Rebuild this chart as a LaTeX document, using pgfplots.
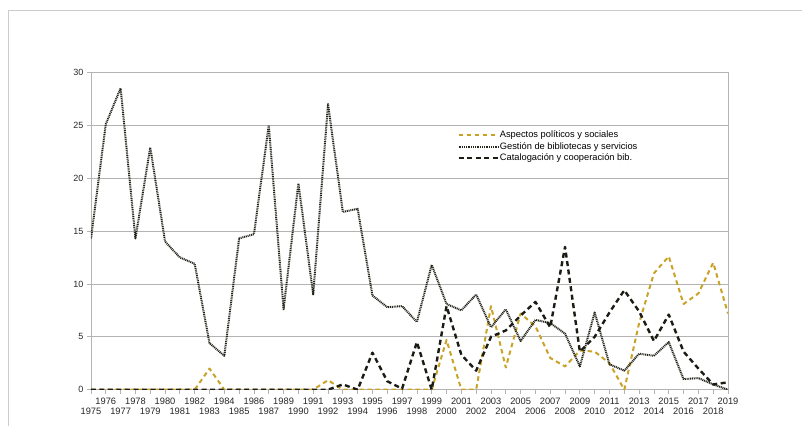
\documentclass[border=0pt]{standalone}
\usepackage{fontspec}
\setmainfont{Liberation Sans}
\usepackage{pgfplots}
\usepackage{pgfplotstable}
\pgfplotsset{compat=1.18}
\definecolor{ochre}{HTML}{C9A227}
\definecolor{darkdot}{HTML}{23231A}
\definecolor{darkdash}{HTML}{1C1C14}
\definecolor{gridgray}{HTML}{B3B3B3}

% idx 0 = 1975 ... idx 43 = 2019 (1988 is not a category)
\pgfplotstableread{
idx aspectos gestion catalog
0  0    14.3 0
1  0    25.1 0
2  0    28.5 0
3  0    14.3 0
4  0    22.9 0
5  0    14.0 0
6  0    12.5 0
7  0    11.9 0
8  2.0  4.4  0
9  0    3.2  0
10 0    14.3 0
11 0    14.7 0
12 0    25.0 0
13 0    7.6  0
14 0    19.5 0
15 0    9.0  0
16 0.9  27.0 0
17 0    16.8 0.5
18 0    17.1 0
19 0    8.9  3.5
20 0    7.8  0.8
21 0    7.9  0.1
22 0    6.4  4.5
23 0    11.8 0
24 4.7  8.1  7.9
25 0    7.5  3.3
26 0    9.0  1.8
27 7.9  5.9  5.0
28 2.1  7.6  5.6
29 7.2  4.6  7.0
30 6.0  6.6  8.3
31 3.0  6.3  5.9
32 2.2  5.3  13.5
33 3.7  2.2  3.6
34 3.6  7.3  5.0
35 2.5  2.4  7.3
36 0    1.8  9.4
37 6.3  3.4  7.4
38 11.0 3.2  4.6
39 12.6 4.5  7.1
40 8.1  1.0  3.6
41 9.1  1.1  2.0
42 12.0 0.5  0.5
43 7.2  0.0  0.7
}\datatable

\begin{document}
\begin{tikzpicture}
\path[use as bounding box] (-91pt,-36.3pt) rectangle (711pt,389.7pt);
\draw[black!20, line width=0.8pt] (-83pt,-36.3pt) -- (-83pt,379.7pt) -- (711pt,379.7pt);
\begin{axis}[
    at={(0pt,0pt)}, anchor=south west,
    scale only axis,
    width=637pt, height=317.4pt,
    xmin=0, xmax=43, ymin=0, ymax=30,
    axis line style={gridgray, line width=0.8pt},
    ymajorgrids,
    grid style={gridgray, line width=0.8pt},
    tick style={gridgray, line width=0.8pt},
    tick align=outside,
    major tick length=4pt,
    xtick pos=bottom, ytick pos=left,
    ytick={0,5,...,30},
    /pgf/number format/assume math mode=true,
    yticklabel style={font=\fontsize{9}{10}\selectfont, text=black!85},
    xtick={0,2,...,42},
    xticklabels={1975,1977,1979,1981,1983,1985,1987,1990,1992,1994,1996,1998,2000,2002,2004,2006,2008,2010,2012,2014,2016,2018},
    extra x ticks={1,3,...,43},
    extra x tick labels={1976,1978,1980,1982,1984,1986,1989,1991,1993,1995,1997,1999,2001,2003,2005,2007,2009,2011,2013,2015,2017,2019},
    xticklabel style={font=\fontsize{9.3}{10}\selectfont, text=black!85, anchor=base},
    xticklabel shift=21pt,
    extra x tick style={grid=none, xticklabel shift=11pt},
    every axis plot/.append style={line join=round},
    legend cell align=left,
    legend image code/.code={\draw[#1] (0pt,0pt) -- (40pt,0pt);},
    legend style={draw=none, fill=none, at={(0.575,0.817)}, anchor=north west,
        inner sep=0pt, font=\fontsize{9.3}{11}\selectfont, row sep=2.5pt,
        nodes={inner sep=0pt, text height=7pt, text depth=2pt},
        /tikz/every even column/.append style={column sep=6pt}},
]
\addplot[ochre, line width=2pt, dash pattern=on 4.5pt off 3.5pt] table[x=idx, y=aspectos] {\datatable};
\addlegendentry{Aspectos políticos y sociales}
\addplot[darkdot, line width=2pt, dash pattern=on 1pt off 0.8pt] table[x=idx, y=gestion] {\datatable};
\addlegendentry{Gestión de bibliotecas y servicios}
\addplot[darkdash, line width=2.4pt, dash pattern=on 5pt off 3.5pt] table[x=idx, y=catalog] {\datatable};
\addlegendentry{Catalogación y cooperación bib.}
\node[font=\fontsize{11.8}{14}\selectfont, text=black!85] at (axis description cs:0.647,1.0756) {Biblioteconomía (español)};
\end{axis}
\end{tikzpicture}
\end{document}
